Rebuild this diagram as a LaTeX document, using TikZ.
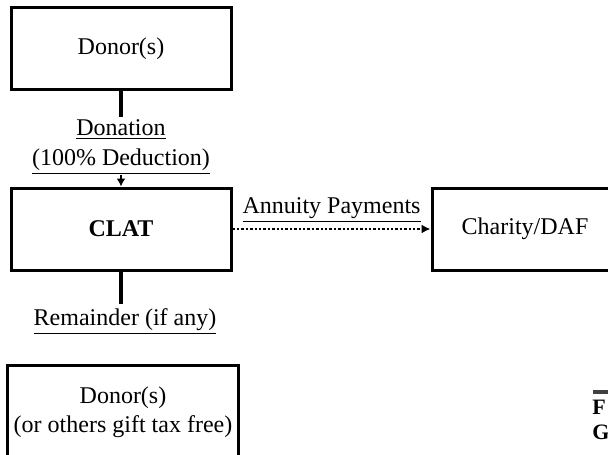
\documentclass[tikz,border=0pt]{standalone}
\usepackage{fontspec}
\setmainfont{Liberation Serif}
\usetikzlibrary{arrows.meta}
\begin{document}
\begin{tikzpicture}[x=0.5pt,y=-0.5pt,
  box/.style={draw,line width=1.5pt,minimum width=110pt,minimum height=41pt,align=center,font=\fontsize{12}{14.5}\selectfont},
  lbl/.style={align=center,inner sep=2.5pt,font=\fontsize{12}{15}\selectfont},
  stem/.style={line width=2pt}]
  \useasboundingbox (0,0) rectangle (608,454);
  \clip (0,0) rectangle (608,454);
  \node (donor) at (121,49) [box] {Donor(s)};
  \node (clat) at (121,229) [box] {\textbf{CLAT}};
  \node (charity) at (525,229) [box,minimum width=93pt] {Charity/DAF};
  \node (heirs) at (123,412) [box,minimum width=113pt,minimum height=47pt] {Donor(s)\\(or others gift tax free)};
  \node (donation) at (121,147) [lbl,inner ysep=1pt] {\underline{Donation}\\\underline{(100\% Deduction)}};
  \node (remainder) at (125,322) [lbl] {\underline{Remainder (if any)}};
  \coordinate (drop) at (121,175);
  \draw (donor.south) edge[stem] (donor.south |- donation.north);
  \draw (drop) edge[-{Latex[length=4pt,width=4.5pt]},line width=1.2pt] (clat.north);
  \draw (clat.east) edge[-{Latex[length=4.5pt,width=4.5pt]},line width=1.3pt,dash pattern=on 1.2pt off 1pt]
    node[midway,above,lbl] {\underline{Annuity Payments}} (charity.west);
  \draw (clat.south) edge[stem] (clat.south |- remainder.north);
  % cut-off text at the lower right
  \coordinate (bar) at (593,392);
  \draw[line width=2pt,black!75] (bar) -- ++(20,0);
  \node (f) at (592,407) [anchor=west,inner sep=0pt,font=\fontsize{11}{13}\selectfont\bfseries] {F};
  \node (g) at (592,432) [anchor=west,inner sep=0pt,font=\fontsize{11}{13}\selectfont\bfseries] {G};
\end{tikzpicture}
\end{document}
